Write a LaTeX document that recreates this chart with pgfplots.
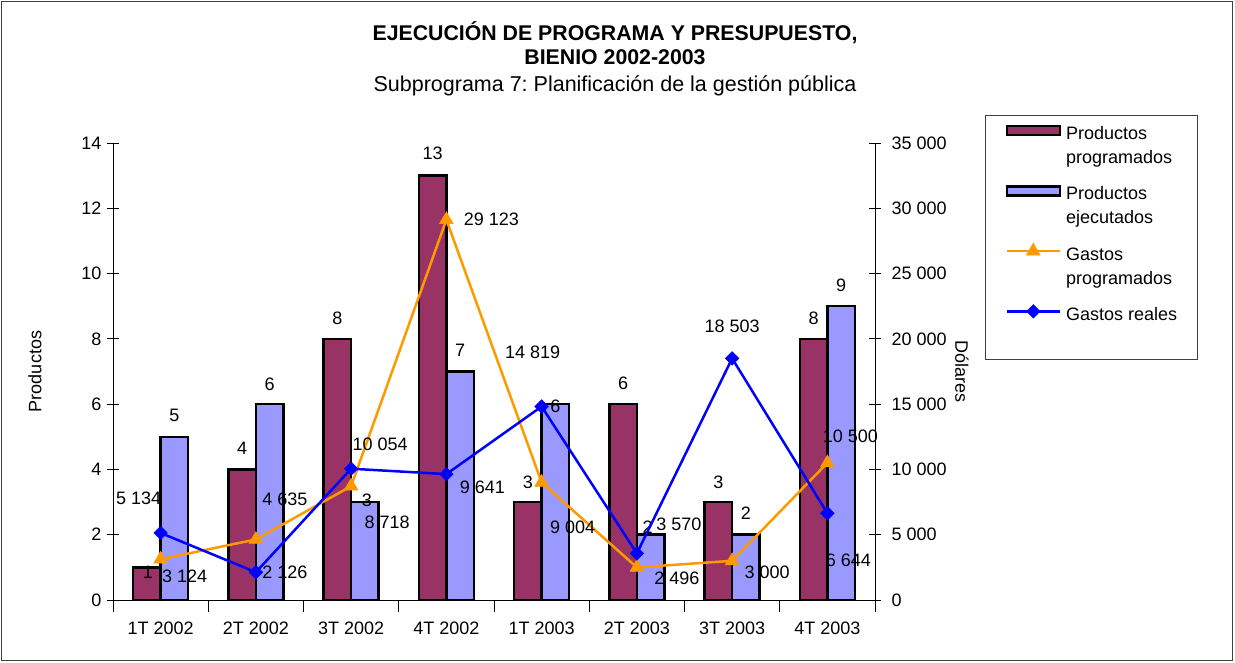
\documentclass[border=0pt]{standalone}
\usepackage{pgfplots}
\usepackage{pgfplotstable}
\pgfplotsset{compat=1.18}
\usepackage{fontspec}
\setmainfont{Liberation Sans}
\frenchspacing
\definecolor{cprog}{HTML}{993366}
\definecolor{cejec}{HTML}{9999FF}
\definecolor{cgprog}{HTML}{FF9900}
\definecolor{creal}{HTML}{0000FF}

\pgfplotstableread{
x prog pdx pdy ejec edx edy
0 1 1 -5 5 0 21
1 4 0 21 6 0 20
2 8 0 21 3 2 2
3 13 0 22 7 0 21
4 3 0 20 6 0 -2
5 6 0 21 2 -3 7
6 3 0 20 2 0 21
7 8 0 21 9 0 21
}\productos

\pgfplotstableread{
x prog pdx pdy real rdx rdy
0 3124 24 -17 5134 -22 35
1 4635 29 40 2126 29 0
2 8718 36 -36 10054 29 24
3 29123 45 0 9641 36 -13
4 9004 31 -45 14819 -9 54
5 2496 40 -11 3570 42 29
6 3000 35 -11 18503 0 32
7 10500 23 27 6644 21 -47
}\gastos

\pgfplotsset{
  base/.style={
    width=762pt, height=457pt, scale only axis,
    xmin=-0.5, xmax=7.5,
    /pgf/number format/assume math mode=true,
    /pgf/number format/1000 sep={\ },
    tick align=center, major tick length=12pt,
    every tick/.style={black, line width=0.8pt},
    axis line style={black, line width=0.8pt},
  },
  mylineleg/.style={legend image code/.code={\draw[mark repeat=2,mark phase=2,##1] plot coordinates {(0pt,13.7pt) (26.5pt,13.7pt) (53pt,13.7pt)};}},
  mylinelegB/.style={legend image code/.code={\draw[mark repeat=2,mark phase=2,##1] plot coordinates {(0pt,16.7pt) (26.5pt,16.7pt) (53pt,16.7pt)};}},
  barlegA/.style={legend image code/.code={\draw[fill=cprog, draw=black, line width=2.5pt] (0pt,8.5pt) rectangle (53pt,17.5pt);}},
  barlegB/.style={legend image code/.code={\draw[fill=cejec, draw=black, line width=2.5pt] (0pt,8.5pt) rectangle (53pt,17.5pt);}},
}

\begin{document}
\begin{tikzpicture}[font=\fontsize{18}{21.6}\selectfont]
\useasboundingbox (-113pt,-62pt) rectangle (1122pt,600pt);
\draw[black!75, line width=1pt] (-111pt,-60pt) rectangle (1119pt,598pt);

\begin{axis}[base,
  axis y line*=left, axis x line*=bottom,
  ymin=0, ymax=14, ytick={0,2,...,14},
  xtick={-0.5,0.5,...,7.5},
  x tick label as interval,
  xticklabels={1T 2002,2T 2002,3T 2002,4T 2002,1T 2003,2T 2003,3T 2003,4T 2003},
  xticklabel style={yshift=-6pt},
  yticklabel style={xshift=-2pt},
  ylabel={Productos},
  ylabel style={at={(axis description cs:-0.1024,0.5)}, anchor=center},
  ybar=0pt, bar width=0.289,
]
\addplot[fill=cprog, draw=black, line width=2.5pt,
  visualization depends on={\thisrow{pdx} \as \ldx},
  visualization depends on={\thisrow{pdy} \as \ldy},
  nodes near coords,
  every node near coord/.append style={anchor=center, xshift=\ldx pt, yshift=\ldy pt, black}]
  table[x=x, y=prog] {\productos};
\addplot[fill=cejec, draw=black, line width=2.5pt,
  visualization depends on={\thisrow{edx} \as \ldx},
  visualization depends on={\thisrow{edy} \as \ldy},
  nodes near coords,
  every node near coord/.append style={anchor=center, xshift=\ldx pt, yshift=\ldy pt, black}]
  table[x=x, y=ejec] {\productos};
\end{axis}

\begin{axis}[base,
  axis y line*=right, axis x line=none,
  ymin=0, ymax=35000, ytick={0,5000,...,35000},
  scaled y ticks=false,
  yticklabel style={xshift=7pt},
  ylabel={Dólares},
  ylabel style={at={(axis description cs:1.1142,0.5)}, anchor=center, rotate=180},
  legend style={at={(1.1444,1.0613)}, anchor=north west, draw=black!75, line width=1pt,
    inner xsep=20pt, inner ysep=7pt, row sep=18pt, column sep=5pt,
    font=\fontsize{18}{24}\selectfont, nodes={inner sep=0pt}},
  legend cell align=left,
]
\addlegendimage{barlegA}
\addlegendentry{\begin{tabular}[b]{@{}l@{}}Productos\\programados\end{tabular}}
\addlegendimage{barlegB}
\addlegendentry{\begin{tabular}[b]{@{}l@{}}Productos\\ejecutados\end{tabular}}

\addplot[color=cgprog, line width=2.5pt, mark=triangle*, mark size=8pt,
  mark options={line width=0.5pt, fill=cgprog, draw=cgprog},
  point meta=y,
  visualization depends on={\thisrow{pdx} \as \ldx},
  visualization depends on={\thisrow{pdy} \as \ldy},
  nodes near coords,
  every node near coord/.append style={anchor=center, xshift=\ldx pt, yshift=\ldy pt, black},
  mylineleg]
  table[x=x, y=prog] {\gastos};
\addlegendentry{\begin{tabular}[b]{@{}l@{}}Gastos\\programados\end{tabular}}

\addplot[color=creal, line width=2.5pt, mark=square*, mark size=4.8pt,
  mark options={line width=0.5pt, fill=creal, draw=creal, rotate=45},
  point meta=y,
  visualization depends on={\thisrow{rdx} \as \ldx},
  visualization depends on={\thisrow{rdy} \as \ldy},
  nodes near coords,
  every node near coord/.append style={anchor=center, xshift=\ldx pt, yshift=\ldy pt, black},
  mylinelegB]
  table[x=x, y=real] {\gastos};
\addlegendentry{\begin{tabular}[b]{@{}l@{}}Gastos reales\\[6pt]\mbox{}\end{tabular}}
\end{axis}

\node[font=\bfseries\fontsize{21.3}{24}\selectfont] at (502pt,567pt) {EJECUCIÓN DE PROGRAMA Y PRESUPUESTO,};
\node[font=\bfseries\fontsize{21.3}{24}\selectfont] at (502pt,543pt) {BIENIO 2002-2003};
\node[font=\fontsize{21.5}{24}\selectfont] at (502pt,514pt) {Subprograma 7: Planificación de la gestión pública};
\end{tikzpicture}
\end{document}
